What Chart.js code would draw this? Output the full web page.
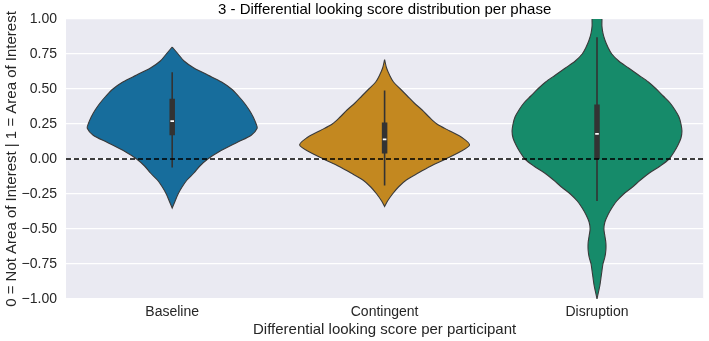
<!DOCTYPE html>
<html lang="en">
<head>
<meta charset="UTF-8" />
<title>Differential looking score distribution per phase</title>
<script src="https://cdn.jsdelivr.net/npm/chart.js"></script>
<style>
  html, body { margin: 0; padding: 0; background: #fff; overflow: hidden; }
  canvas { display: block; }
</style>
</head>
<body>
<canvas id="violin" width="709" height="341"></canvas>
<script>
// categories and box statistics
const categories = ['Baseline', 'Contingent', 'Disruption'];
const whiskerLow = [-0.06, -0.19, -0.30];
const whiskerHigh = [0.62, 0.49, 0.87];
const q1 = [0.17, 0.04, 0.00];
const q3 = [0.43, 0.26, 0.39];
const medians = [0.27, 0.14, 0.18];
const yTicks = [-1, -0.75, -0.5, -0.25, 0, 0.25, 0.5, 0.75, 1];

// violin outlines: score value and relative density (widest point = 86)
const baselineY = [0.80, 0.75, 0.70, 0.65, 0.60, 0.55, 0.50, 0.45, 0.40, 0.35, 0.30, 0.25, 0.22, 0.17, 0.12, 0.05, 0.00, -0.05, -0.10, -0.15, -0.20, -0.25, -0.30, -0.35];
const baselineDensity = [0, 6, 12, 22, 36, 50, 60, 67, 73, 78, 82, 85, 86, 80, 66, 47, 36, 28, 22, 15, 10, 6, 3, 0];

const contingentY = [0.71, 0.65, 0.60, 0.55, 0.50, 0.45, 0.40, 0.35, 0.30, 0.25, 0.20, 0.15, 0.10, 0.05, 0.00, -0.05, -0.10, -0.15, -0.20, -0.25, -0.30, -0.34];
const contingentDensity = [0, 2, 5, 9, 16, 23, 30, 38, 45, 53, 66, 79, 86, 76, 62, 47, 34, 22, 14, 8, 3, 0];

const disruptionY = [1.10, 1.00, 0.95, 0.90, 0.85, 0.80, 0.75, 0.70, 0.65, 0.60, 0.55, 0.50, 0.45, 0.40, 0.35, 0.30, 0.25, 0.20, 0.15, 0.10, 0.05, 0.00, -0.05, -0.10, -0.15, -0.20, -0.25, -0.30, -0.35, -0.40, -0.45, -0.50, -0.55, -0.60, -0.65, -0.70, -0.75, -0.80, -0.85, -0.90, -0.95, -1.00];
const disruptionDensity = [4, 5, 5, 6, 8, 11, 15, 22, 32, 42, 52, 60, 67, 74, 79, 83, 85, 86, 85, 82, 78, 73, 64, 53, 44, 36, 27, 20, 15, 11, 8, 7, 8, 9, 9, 8, 6, 5, 4, 3, 1.5, 0];

const violinY = [baselineY, contingentY, disruptionY];
const violinDensity = [baselineDensity, contingentDensity, disruptionDensity];
const colors = ['#176d9c', '#c38820', '#168b6a'];
const HALF_WIDTH = 0.4;
const edgeColor = '#3a3a3a';

function outline(i) {
  const ys = violinY[i], ds = violinDensity[i];
  const maxD = Math.max(...ds);
  const right = ys.map((y, k) => ({ x: i + HALF_WIDTH * ds[k] / maxD, y }));
  const left = ys.map((y, k) => ({ x: i - HALF_WIDTH * ds[k] / maxD, y })).reverse();
  const pts = right.concat(left);
  pts.push(pts[0]);
  return pts;
}

const datasets = [];
categories.forEach((c, i) => {
  datasets.push({
    data: outline(i),
    showLine: true,
    fill: 'shape',
    backgroundColor: colors[i],
    borderColor: edgeColor,
    borderWidth: 1.1,
    pointRadius: 0,
    tension: 0.3,
    order: 4
  });
  datasets.push({
    data: [{ x: i, y: whiskerLow[i] }, { x: i, y: whiskerHigh[i] }],
    showLine: true, borderColor: '#333333', borderWidth: 1.6, pointRadius: 0, order: 3
  });
  datasets.push({
    data: [{ x: i, y: q1[i] }, { x: i, y: q3[i] }],
    showLine: true, borderColor: '#333333', borderWidth: 5.5, borderCapStyle: 'butt', pointRadius: 0, order: 2
  });
  datasets.push({
    data: [{ x: i, y: medians[i] }],
    showLine: false, pointStyle: 'line', pointRadius: 1.8, borderColor: '#ffffff', borderWidth: 1.8, order: 1
  });
});
// dashed reference line at zero
datasets.push({
  data: [{ x: -0.5, y: 0 }, { x: categories.length - 0.5, y: 0 }],
  showLine: true, borderColor: '#000000', borderWidth: 1.3, borderDash: [5, 3], pointRadius: 0, order: 0
});

const bgPlugin = {
  id: 'bg',
  beforeDraw(chart) {
    const { ctx, chartArea: a } = chart;
    ctx.save();
    ctx.fillStyle = '#eaeaf2';
    ctx.fillRect(a.left, a.top, a.right - a.left, a.bottom - a.top);
    ctx.restore();
  }
};

const fontFamily = '"Liberation Sans", Arial, sans-serif';

new Chart(document.getElementById('violin'), {
  type: 'scatter',
  data: { datasets },
  options: {
    responsive: false,
    animation: false,
    devicePixelRatio: 1,
    layout: { padding: { right: 4 } },
    plugins: {
      legend: { display: false },
      tooltip: { enabled: false },
      title: {
        display: true,
        fullSize: false,
        text: '3 - Differential looking score distribution per phase',
        color: '#000000',
        font: { family: fontFamily, size: 15, weight: 'normal' },
        padding: { top: 0.5, bottom: 0.5 }
      }
    },
    scales: {
      x: {
        type: 'linear',
        min: -0.5,
        max: categories.length - 0.5,
        afterBuildTicks: (s) => { s.ticks = categories.map((c, i) => ({ value: i })); },
        afterFit: (s) => { s.height = 42; },
        ticks: {
          callback: (v) => categories[v],
          color: '#262626',
          font: { family: fontFamily, size: 14 },
          padding: 5,
          maxRotation: 0
        },
        grid: { display: false, drawTicks: false },
        border: { display: false },
        title: {
          display: true,
          text: 'Differential looking score per participant',
          color: '#262626',
          font: { family: fontFamily, size: 15 },
          padding: { top: 0, bottom: 2 }
        }
      },
      y: {
        min: -1,
        max: 1,
        afterBuildTicks: (s) => { s.ticks = yTicks.map(v => ({ value: v })); },
        afterFit: (s) => { s.width = 66; },
        ticks: {
          callback: (v) => (v < 0 ? '\u2212' + Math.abs(v).toFixed(2) : v.toFixed(2)),
          color: '#262626',
          font: { family: fontFamily, size: 14 },
          padding: 9
        },
        grid: { color: '#ffffff', lineWidth: 1.2, drawTicks: false },
        border: { display: false },
        title: {
          display: true,
          text: '0 = Not Area of Interest | 1 = Area of Interest',
          color: '#262626',
          font: { family: fontFamily, size: 15 },
          padding: { top: 3, bottom: 0 }
        }
      }
    }
  },
  plugins: [bgPlugin]
});
</script>
</body>
</html>
